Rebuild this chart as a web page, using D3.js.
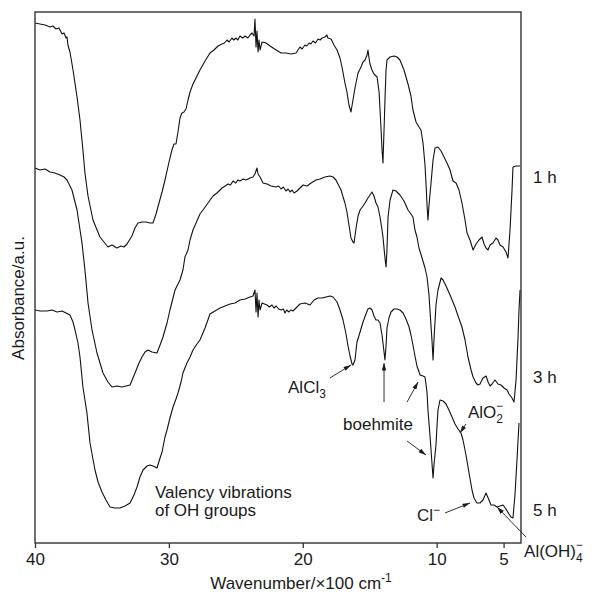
<!DOCTYPE html>
<html>
<head>
<meta charset="utf-8">
<script src="https://cdn.jsdelivr.net/npm/d3@7"></script>
<style>
	body { margin: 0; background: #fff; }
	svg text { font-family: "Liberation Sans", Arial, Helvetica, sans-serif; fill: #1a1a1a; }
</style>
</head>
<body>
<div id="graphicContainer"></div>
<script>

// [wavenumber x100 cm-1, absorbance a.u.]

var spectrum1h = [[40.00,520],[39.63,519],[39.25,518],[38.88,516],[38.66,517],[38.43,514],[38.21,515],[37.98,509],[37.83,510],[37.68,505],[37.61,506],[37.54,498],[37.39,491],[37.16,473],[36.86,446],[36.64,423],[36.42,393],[36.27,370],[36.04,347],[35.67,323],[35.15,306],[34.85,301],[34.55,296],[34.25,298],[33.88,295],[33.58,297],[33.35,296],[33.13,299],[32.76,307],[32.53,315],[32.31,320],[32.01,321],[31.71,321],[31.41,320],[31.19,320],[30.96,329],[30.82,336],[30.51,351],[30.29,363],[29.99,381],[29.77,393],[29.62,399],[29.47,399],[29.32,411],[29.17,425],[29.02,430],[28.87,431],[28.72,434],[28.57,443],[28.42,451],[28.20,459],[27.90,467],[27.68,473],[27.30,482],[26.93,490],[26.63,493],[26.33,497],[26.03,499],[25.85,500],[25.66,503],[25.50,501],[25.29,505],[25.15,503],[24.99,505],[24.85,503],[24.69,507],[24.50,505],[24.31,507],[24.10,505],[23.94,508],[23.79,510],[23.64,507],[23.57,524],[23.49,496],[23.42,512],[23.34,491],[23.27,503],[23.19,493],[23.04,501],[22.74,500],[22.44,497],[21.99,493],[21.62,490],[21.25,490],[20.87,489],[20.50,490],[20.21,496],[20.05,494],[19.83,498],[19.70,497],[19.53,500],[19.40,499],[19.24,502],[19.05,500],[18.86,504],[18.70,503],[18.56,505],[18.34,506],[18.20,508],[18.12,505],[17.89,504],[17.67,498],[17.44,493],[17.22,485],[17.07,476],[16.85,460],[16.70,451],[16.55,438],[16.40,431],[16.25,443],[16.10,455],[15.87,470],[15.65,476],[15.50,481],[15.35,483],[15.20,488],[15.13,493],[15.05,485],[14.98,479],[14.83,473],[14.68,469],[14.45,466],[14.30,451],[14.15,413],[14.08,393],[14.01,380],[13.93,413],[13.86,443],[13.78,473],[13.71,483],[13.48,486],[13.19,487],[12.96,486],[12.74,483],[12.44,473],[12.14,459],[11.92,447],[11.77,433],[11.54,421],[11.32,416],[11.17,413],[11.02,400],[10.87,378],[10.79,358],[10.72,338],[10.65,323],[10.57,338],[10.42,360],[10.27,383],[10.12,395],[9.90,396],[9.67,392],[9.45,386],[9.23,380],[9.00,373],[8.78,362],[8.55,360],[8.33,353],[8.11,340],[7.88,323],[7.73,310],[7.51,303],[7.28,293],[7.06,299],[6.84,303],[6.61,306],[6.46,299],[6.31,295],[6.16,293],[6.01,298],[5.79,300],[5.57,305],[5.42,303],[5.27,298],[5.04,296],[4.82,291],[4.67,285],[4.52,313],[4.37,353],[4.30,376],[4.07,377],[3.77,377]]

var spectrum3h = [[40.00,375],[39.63,373],[39.25,374],[38.88,371],[38.51,370],[38.13,368],[37.83,366],[37.61,363],[37.24,353],[36.86,333],[36.49,300],[36.27,273],[36.04,240],[35.74,213],[35.37,190],[34.92,170],[34.55,161],[34.25,156],[33.88,157],[33.50,156],[33.20,157],[32.90,158],[32.53,170],[32.23,180],[32.01,186],[31.78,191],[31.56,193],[31.26,191],[30.89,190],[30.66,198],[30.44,206],[30.14,220],[29.92,233],[29.54,253],[29.32,259],[29.17,263],[28.95,273],[28.80,286],[28.57,293],[28.42,303],[28.20,313],[27.97,320],[27.68,329],[27.45,333],[27.08,340],[26.70,347],[26.41,350],[26.03,355],[25.80,357],[25.58,359],[25.40,358],[25.21,362],[25.00,360],[24.85,363],[24.69,362],[24.45,364],[24.24,363],[23.94,365],[23.72,366],[23.57,369],[23.42,375],[23.34,369],[23.19,366],[22.97,360],[22.67,359],[22.37,357],[21.99,356],[21.80,357],[21.62,354],[21.45,356],[21.25,352],[21.10,354],[20.95,351],[20.80,353],[20.65,350],[20.43,352],[20.21,355],[19.98,358],[19.68,357],[19.38,360],[19.01,363],[18.71,364],[18.34,366],[17.97,367],[17.74,366],[17.52,363],[17.37,359],[17.14,353],[16.99,346],[16.85,340],[16.70,331],[16.55,318],[16.40,305],[16.25,301],[16.17,300],[16.02,315],[15.87,327],[15.72,333],[15.50,337],[15.35,340],[15.13,345],[14.98,348],[14.83,351],[14.68,347],[14.53,340],[14.38,336],[14.23,326],[14.08,313],[14.01,306],[13.86,285],[13.78,276],[13.71,293],[13.63,326],[13.48,343],[13.26,353],[13.04,352],[12.74,348],[12.44,342],[12.14,333],[11.92,329],[11.77,326],[11.62,313],[11.47,306],[11.32,295],[11.09,285],[10.87,275],[10.72,266],[10.57,248],[10.50,233],[10.35,203],[10.27,183],[10.20,203],[10.05,238],[9.90,253],[9.67,265],[9.52,263],[9.30,257],[9.00,248],[8.63,236],[8.40,227],[8.11,216],[7.88,203],[7.66,186],[7.43,173],[7.28,166],[7.06,160],[6.91,158],[6.76,159],[6.54,165],[6.31,167],[6.16,161],[6.01,157],[5.86,159],[5.64,163],[5.42,159],[5.19,158],[4.97,155],[4.74,153],[4.60,149],[4.37,145],[4.22,141],[4.07,163],[3.92,206],[3.85,233],[3.77,253]]

var spectrum5h = [[40.00,233],[39.63,232],[39.10,232],[38.73,233],[38.36,231],[37.98,232],[37.68,230],[37.39,228],[37.16,221],[37.01,213],[36.79,200],[36.64,186],[36.42,156],[36.12,130],[35.89,100],[35.52,73],[35.29,61],[35.00,51],[34.70,43],[34.40,36],[34.02,35],[33.65,35],[33.28,37],[32.90,40],[32.61,48],[32.38,56],[32.16,66],[31.93,73],[31.63,77],[31.41,78],[31.19,77],[30.89,75],[30.66,85],[30.51,91],[30.29,106],[30.14,113],[29.92,125],[29.69,136],[29.47,144],[29.32,150],[29.09,161],[28.95,170],[28.65,180],[28.42,186],[28.20,193],[27.90,199],[27.68,203],[27.30,215],[26.93,229],[26.56,232],[26.18,235],[25.81,237],[25.43,239],[25.06,240],[24.69,243],[24.31,244],[23.94,246],[23.72,247],[23.57,253],[23.49,231],[23.42,250],[23.34,226],[23.27,243],[23.19,233],[23.04,240],[22.67,238],[22.50,236],[22.30,238],[22.15,235],[21.99,237],[21.80,234],[21.62,233],[21.45,234],[21.33,230],[21.20,233],[21.03,231],[20.90,233],[20.73,232],[20.43,236],[20.21,239],[19.83,240],[19.46,238],[19.16,243],[18.86,245],[18.56,245],[18.26,246],[17.97,247],[17.74,246],[17.44,241],[17.22,233],[16.99,223],[16.77,209],[16.62,197],[16.47,187],[16.32,179],[16.25,178],[16.10,183],[15.95,201],[15.72,211],[15.50,221],[15.28,229],[15.13,234],[14.98,235],[14.83,233],[14.68,227],[14.53,223],[14.38,223],[14.23,220],[14.08,208],[13.93,191],[13.86,183],[13.78,197],[13.71,215],[13.56,225],[13.41,231],[13.19,234],[12.96,234],[12.74,233],[12.51,230],[12.29,224],[12.06,216],[11.92,208],[11.77,198],[11.62,187],[11.47,177],[11.24,168],[11.02,167],[10.87,166],[10.72,151],[10.65,133],[10.50,108],[10.42,93],[10.27,65],[10.20,78],[10.05,98],[9.97,118],[9.90,133],[9.75,143],[9.52,142],[9.30,139],[9.08,133],[8.85,126],[8.63,119],[8.40,114],[8.18,110],[8.03,103],[7.81,88],[7.58,70],[7.36,53],[7.21,45],[6.99,40],[6.76,40],[6.54,43],[6.31,50],[6.09,43],[5.94,38],[5.72,38],[5.49,36],[5.27,37],[5.04,38],[4.82,34],[4.60,29],[4.45,26],[4.30,25],[4.15,48],[4.00,83],[3.85,120]]

var xTicks = [40, 30, 20, 10, 5]

var seriesNames = ["1 h", "3 h", "5 h"]
var seriesLabelLevels = [366, 166, 33]

// annotation text: plain runs, "sub", "sup", and "stack" (sup placed over the preceding sub)
var noteTexts = [
	[["AlCl"], ["3", "sub"]],
	[["boehmite"]],
	[["AlO"], ["2", "sub"], ["\u2212", "stack"]],
	[["Cl"], ["\u2212", "sup"]],
	[["Al(OH)"], ["4", "sub"], ["\u2212", "stack"]],
	[["Valency vibrations"]],
	[["of OH groups"]]
]
var noteWavenumbers = [21.10, 14.38, 7.66, 11.47, 3.47, 31.04, 31.04]
var noteLevels = [150, 113, 125, 22, -14, 45, 27]
var noteAnchors = ["start", "middle", "start", "start", "start", "start", "start"]

// arrows: [from wavenumber, from a.u., to wavenumber, to a.u.]
var arrows = [
	[17.97, 165, 16.40, 178],
	[13.93, 141, 13.93, 180],
	[12.21, 141, 11.39, 161],
	[12.21, 102, 10.80, 88],
	[7.81, 119, 8.26, 110],
	[9.38, 30, 7.51, 40],
	[3.33, 6, 5.49, 36]
]

function init() {

	var fullWidth = 597
	var fullHeight = 592
	var margin = {top: 12, right: 76, bottom: 49, left: 35}
	var width = fullWidth - margin.left - margin.right
	var height = fullHeight - margin.top - margin.bottom

	d3.select("#graphicContainer svg").remove()

	var svg = d3.select("#graphicContainer").append("svg")
		.attr("width", fullWidth)
		.attr("height", fullHeight)

	svg.append("defs").append("marker")
		.attr("id", "arrowhead")
		.attr("viewBox", "0 0 10 6")
		.attr("refX", 10)
		.attr("refY", 3)
		.attr("markerWidth", 8)
		.attr("markerHeight", 4.5)
		.attr("markerUnits", "userSpaceOnUse")
		.attr("orient", "auto")
		.append("path")
		.attr("d", "M0,0L10,3L0,6Z")
		.attr("fill", "#1a1a1a")

	var features = svg.append("g").attr("transform", "translate(" + margin.left + "," + margin.top + ")")

	var x = d3.scaleLinear().domain([40, 3.7]).range([0, width])
	var y = d3.scaleLinear().domain([0, 531]).range([height, 0])

	var line = d3.line()
		.x(d => x(d[0]))
		.y(d => y(d[1]))

	var allSpectra = [spectrum1h, spectrum3h, spectrum5h]

	features.append("g")
		.selectAll("path")
		.data(allSpectra)
		.enter()
		.append("path")
		.attr("d", line)
		.attr("fill", "none")
		.attr("stroke", "#111")
		.attr("stroke-width", 1.1)
		.attr("stroke-linejoin", "round")

	// frame

	features.append("rect")
		.attr("width", width)
		.attr("height", height)
		.attr("fill", "none")
		.attr("stroke", "#333")
		.attr("stroke-width", 1.4)

	var xAxis = features.append("g")
		.attr("transform", "translate(0," + height + ")")
		.call(d3.axisBottom(x).tickValues(xTicks).tickSize(5).tickPadding(5))

	xAxis.select(".domain").remove()
	xAxis.selectAll(".tick line").attr("stroke", "#333").attr("stroke-width", 1.3)
	xAxis.selectAll(".tick text")
		.attr("font-size", 17)
		.attr("font-family", null)
		.attr("fill", "#1a1a1a")

	svg.append("text")
		.attr("x", 301)
		.attr("y", 589)
		.attr("text-anchor", "middle")
		.attr("font-size", 17)
		.text("Wavenumber/\u00d7100 cm")
		.append("tspan")
		.attr("font-size", 12)
		.attr("dy", -7)
		.text("-1")

	svg.append("text")
		.attr("transform", "translate(24,298) rotate(-90)")
		.attr("text-anchor", "middle")
		.attr("font-size", 17)
		.text("Absorbance/a.u.")

	// series names on the right

	features.append("g")
		.selectAll("text")
		.data(seriesNames)
		.enter()
		.append("text")
		.attr("x", width + 12)
		.attr("y", (d, i) => y(seriesLabelLevels[i]))
		.attr("dy", "0.35em")
		.attr("font-size", 17)
		.text(d => d)

	// annotations

	features.append("g")
		.selectAll("line")
		.data(arrows)
		.enter()
		.append("line")
		.attr("x1", d => x(d[0]))
		.attr("y1", d => y(d[1]))
		.attr("x2", d => x(d[2]))
		.attr("y2", d => y(d[3]))
		.attr("stroke", "#1a1a1a")
		.attr("stroke-width", 0.9)
		.attr("marker-end", "url(#arrowhead)")

	var notes = features.append("g")
		.selectAll("text")
		.data(noteTexts)
		.enter()
		.append("text")
		.attr("x", (d, i) => x(noteWavenumbers[i]))
		.attr("y", (d, i) => y(noteLevels[i]))
		.attr("text-anchor", (d, i) => noteAnchors[i])
		.attr("font-size", 17)

	notes.each(function(parts) {
		var el = d3.select(this)
		var shift = 0
		parts.forEach(function(p) {
			var span = el.append("tspan").text(p[0])
			if (p[1] === "sub") {
				span.attr("font-size", 12).attr("dy", 5 - shift)
				shift = 5
			}
			else if (p[1] === "sup") {
				span.attr("font-size", 12).attr("dy", -7 - shift)
				shift = -7
			}
			else if (p[1] === "stack") {
				span.attr("font-size", 12).attr("dx", -7).attr("dy", -8 - shift)
				shift = -8
			}
			else if (shift !== 0) {
				span.attr("dy", -shift)
				shift = 0
			}
		})
	})

}

init()

</script>
</body>
</html>
